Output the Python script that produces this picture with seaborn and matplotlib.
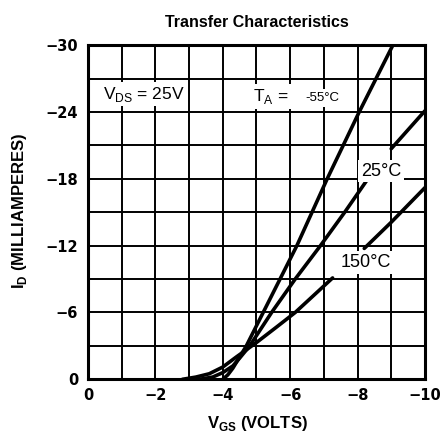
import matplotlib
matplotlib.use('Agg')
import matplotlib.pyplot as plt
import seaborn as sns
import pandas as pd

# Кривые передаточной характеристики (V_GS в вольтах, I_D в мА)
vgs_m55 = [-4.0, -4.15, -4.3, -4.5, -4.7, -5.2, -5.7, -6.2, -6.65, -7.1, -8.05, -9.05]
id_m55 = [0, -0.4, -1.0, -2.0, -3.0, -6.0, -9.0, -12.0, -15.0, -18.0, -24.0, -30.0]

vgs_25a = [-3.3, -3.7, -4.0, -4.3, -4.5, -4.8, -5.45, -6.15, -6.9, -7.62, -8.4]
id_25a = [0, -0.2, -0.6, -1.2, -1.9, -3.0, -6.0, -9.0, -12.0, -15.0, -18.4]
vgs_25b = [-9.0, -10.0]
id_25b = [-20.7, -24.1]

vgs_150a = [-2.8, -3.2, -3.6, -4.0, -4.4, -5.0, -5.6, -6.15, -7.26]
id_150a = [0, -0.2, -0.5, -1.1, -2.0, -3.3, -4.7, -6.0, -9.1]
vgs_150b = [-8.2, -9.0, -10.0]
id_150b = [-11.75, -14.1, -17.2]

x_ticks = [0, -2, -4, -6, -8, -10]
x_labels = ['0', '\u22122', '\u22124', '\u22126', '\u22128', '\u221210']
y_ticks = [0, -6, -12, -18, -24, -30]
y_labels = ['0', '\u22126', '\u221212', '\u221218', '\u221224', '\u221230']

segments = [
    ('-55', vgs_m55, id_m55),
    ('25a', vgs_25a, id_25a),
    ('25b', vgs_25b, id_25b),
    ('150a', vgs_150a, id_150a),
    ('150b', vgs_150b, id_150b),
]
rows = []
for name, xs, ys in segments:
    for x, y in zip(xs, ys):
        rows.append({'seg': name, 'vgs': x, 'id': y})
df = pd.DataFrame(rows)

sns.set_style('white')
plt.rcParams['font.family'] = ['Liberation Sans', 'DejaVu Sans']
plt.rcParams['text.color'] = 'black'
plt.rcParams['axes.labelcolor'] = 'black'
plt.rcParams['xtick.color'] = 'black'
plt.rcParams['ytick.color'] = 'black'

fig = plt.figure(figsize=(4.41, 4.34), dpi=100)
ax = fig.add_axes([0.1995, 0.126, 0.764, 0.770])

for name, _, _ in segments:
    sns.lineplot(data=df[df['seg'] == name], x='vgs', y='id', color='black',
                 linewidth=2.6, sort=False, estimator=None, ax=ax, zorder=3)

ax.set_xlim(0, -10)
ax.set_ylim(0, -30)
ax.set_xticks(x_ticks)
ax.set_xticklabels(x_labels)
ax.set_yticks(y_ticks)
ax.set_yticklabels(y_labels)
ax.set_xticks(range(0, -11, -1), minor=True)
ax.set_yticks(range(0, -31, -3), minor=True)
ax.grid(True, which='both', color='black', linewidth=1.4)
ax.set_axisbelow(True)
ax.tick_params(axis='y', which='both', length=0, pad=7)
ax.tick_params(axis='x', which='both', length=0, pad=6)
for lbl in ax.get_xticklabels() + ax.get_yticklabels():
    lbl.set_fontfamily('DejaVu Sans')
    lbl.set_fontweight('bold')
    lbl.set_fontsize(10.5)
for s in ax.spines.values():
    s.set_color('black')
    s.set_linewidth(2.2)

# Подписи внутри графика
box = dict(facecolor='white', edgecolor='none', pad=2)
ax.text(-1.65, -25.2, r'V$_{\mathregular{DS}}$ = 25V', fontsize=12.5, ha='center', va='baseline',
        bbox=box, zorder=4)
ax.text(-5.45, -25.0, r'T$_{\mathregular{A}}$ = ', fontsize=12.5, ha='center', va='baseline',
        bbox=box, zorder=4)
ax.text(-6.95, -25.0, '-55°C', fontsize=9.5, ha='center', va='baseline', bbox=box, zorder=4)
ax.text(-8.7, -18.7, '25°C', fontsize=13, ha='center', va='center', bbox=box, zorder=4)
ax.text(-8.25, -10.5, '150°C', fontsize=13, ha='center', va='center', bbox=box, zorder=4)

ax.set_title('Transfer Characteristics', fontsize=11.5, fontweight='bold', pad=13)
ax.set_xlabel(r'V$_{\mathregular{GS}}$ (VOLTS)', fontsize=12, fontweight='bold')
ax.set_ylabel(r'I$_{\mathregular{D}}$ (MILLIAMPERES)', fontsize=12, fontweight='bold')
ax.xaxis.set_label_coords(0.503, -0.105)
ax.yaxis.set_label_coords(-0.175, 0.503)

plt.savefig('out.png', dpi=100)
